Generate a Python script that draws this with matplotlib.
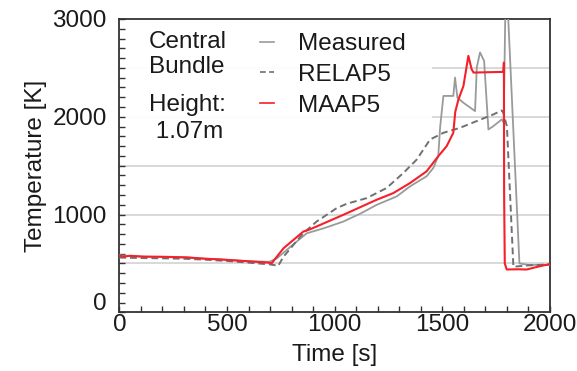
import matplotlib
matplotlib.use("Agg")
import matplotlib.pyplot as plt
from matplotlib.patches import Rectangle
from matplotlib.ticker import MultipleLocator
import matplotlib.transforms as mtransforms

plt.rcParams['font.family'] = ['Liberation Sans', 'DejaVu Sans']

# Measured (gray solid)
meas_t = [0, 50, 111, 200, 313, 400, 467, 600, 697, 731, 800, 870, 950, 1040, 1120, 1195,
          1288, 1350, 1427, 1458, 1481, 1490, 1505, 1551, 1559, 1570, 1600, 1652, 1660,
          1675, 1694, 1714, 1737, 1776, 1785, 1794, 1800, 1858, 1900, 2000]
meas_T = [585, 575, 568, 565, 560, 548, 541, 522, 517, 551, 680, 808, 860, 928, 1010, 1099,
          1185, 1288, 1391, 1476, 1596, 1900, 2213, 2213, 2401, 2195, 2140, 2058, 2504,
          2658, 2572, 1870, 1904, 1973, 1940, 3300, 3300, 500, 485, 485]

# RELAP5 (gray dashed)
relap_t = [0, 100, 200, 300, 400, 500, 600, 700, 738, 762, 854, 916, 1009, 1056, 1149,
           1241, 1319, 1381, 1443, 1505, 1582, 1660, 1737, 1776, 1783, 1800, 1830, 1900, 2000]
relap_T = [560, 555, 552, 548, 538, 525, 508, 490, 476, 568, 808, 928, 1065, 1110, 1168,
           1271, 1425, 1562, 1767, 1836, 1887, 1956, 2024, 2065, 2041, 1900, 466, 480, 490]

# MAAP5 (red)
maap_t = [0, 20, 50, 111, 200, 313, 400, 467, 600, 697, 707, 762, 854, 886, 1040, 1195,
          1272, 1350, 1427, 1481, 1520, 1551, 1560, 1575, 1598, 1621, 1636, 1645, 1700,
          1783, 1786, 1787, 1790, 1799, 1850, 1892, 1950, 2000]
maap_T = [580, 570, 578, 570, 568, 562, 548, 541, 522, 507, 500, 654, 825, 849, 997, 1151,
          1219, 1322, 1442, 1596, 1699, 1836, 2050, 2178, 2315, 2623, 2486, 2452, 2455,
          2459, 2555, 1200, 500, 438, 440, 438, 470, 493]

x_ticks = [0, 500, 1000, 1500, 2000]
y_ticks = [0, 1000, 2000, 3000]
grid_levels = [500, 1000, 1500, 2000, 2500]

FS = 17.5

fig = plt.figure(figsize=(5.77, 3.71), dpi=100)
ax = fig.add_axes([0.2068, 0.1582, 0.7464, 0.7906])

for g in grid_levels:
    ax.axhline(g, color='#d2d2d2', lw=1.2, zorder=1)

# white backdrop behind legend/annotations
ax.add_patch(Rectangle((0, 0.56), 0.726, 0.44, transform=ax.transAxes,
                       facecolor='white', edgecolor='none', alpha=0.93, zorder=1.5))

l1, = ax.plot(meas_t, meas_T, color='#9a9a9a', lw=1.3, zorder=3, label='Measured')
l2, = ax.plot(relap_t, relap_T, color='#707070', lw=1.4, ls=(0, (3.5, 2)), zorder=3, label='RELAP5')
l3, = ax.plot(maap_t, maap_T, color='#f5202a', lw=1.5, zorder=4, label='MAAP5')

ax.set_xlim(0, 2000)
ax.set_ylim(0, 3000)
ax.set_xticks(x_ticks)
ax.set_yticks(y_ticks)
ax.xaxis.set_minor_locator(MultipleLocator(100))
ax.yaxis.set_minor_locator(MultipleLocator(100))
ax.tick_params(which='both', direction='in', length=4, width=1, color='#333333',
               top=False, right=False, labelsize=FS, labelcolor='#1a1a1a')
ax.tick_params(axis='y', pad=9)
ax.tick_params(axis='x', pad=1)
for s in ax.spines.values():
    s.set_color('#333333')
    s.set_linewidth(1.3)

# shift the y "0" label up a bit
lbl0 = ax.get_yticklabels()[0]
lbl0.set_transform(lbl0.get_transform() + mtransforms.ScaledTranslation(0, 11/100, fig.dpi_scale_trans))

ax.set_xlabel('Time [s]', fontsize=FS, color='#1a1a1a', labelpad=6)
ax.set_ylabel('Temperature [K]', fontsize=FS, color='#1a1a1a', labelpad=4)

leg = ax.legend(handles=[l1, l2, l3], loc='upper left', bbox_to_anchor=(0.305, 0.985),
                frameon=False, fontsize=FS, handlelength=0.55, handletextpad=1.0,
                labelspacing=0.36, borderaxespad=0)
for h in leg.get_lines():
    h.set_linewidth(1.2)
for t in leg.get_texts():
    t.set_color('#1a1a1a')

ax.text(0.068, 0.96, 'Central\nBundle', transform=ax.transAxes, fontsize=FS,
        va='top', ha='left', color='#1a1a1a', linespacing=1.22)
ax.text(0.068, 0.745, 'Height:\n 1.07m', transform=ax.transAxes, fontsize=FS,
        va='top', ha='left', color='#1a1a1a', linespacing=1.3)

fig.savefig('out.png', dpi=100)
